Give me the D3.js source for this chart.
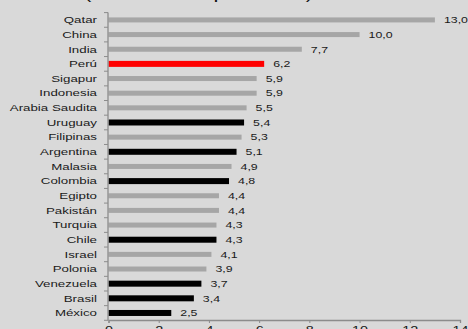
<!DOCTYPE html>
<html>
<head>
<meta charset="utf-8">
<script src="https://cdn.jsdelivr.net/npm/d3@7/dist/d3.min.js"></script>
<style>
  html, body { margin: 0; padding: 0; background: #d9d9d9; }
  svg { display: block; }
  text { font-family: "Liberation Sans", Arial, sans-serif; }
</style>
</head>
<body>
<svg id="chart" width="468" height="329"></svg>
<script>
// Average growth by country
const countries = ["Qatar", "China", "India", "Perú", "Sigapur", "Indonesia", "Arabia Saudita",
  "Uruguay", "Filipinas", "Argentina", "Malasia", "Colombia", "Egipto", "Pakistán",
  "Turquia", "Chile", "Israel", "Polonia", "Venezuela", "Brasil", "México"];
const growth = [13.0, 10.0, 7.7, 6.2, 5.9, 5.9, 5.5, 5.4, 5.3, 5.1, 4.9, 4.8, 4.4, 4.4,
  4.3, 4.3, 4.1, 3.9, 3.7, 3.4, 2.5];
// group: "peru" highlighted, "latam" other Latin American countries, "other" the rest
const group = ["other", "other", "other", "peru", "other", "other", "other",
  "latam", "other", "latam", "other", "latam", "other", "other",
  "other", "latam", "other", "other", "latam", "latam", "latam"];
const xTicks = [0, 2, 4, 6, 8, 10, 12, 14];
const title = "(Variación % promedio)";

const rows = countries.map((c, i) => ({ country: c, value: growth[i], group: group[i] }));

const svg = d3.select("#chart");
const margin = { left: 108.5, top: 12.6, bottom: 8.7 };
const H = 329;

const x = d3.scaleLinear().domain([0, 14]).range([margin.left, 460]);
const y = d3.scaleBand().domain(countries).range([margin.top, H - margin.bottom]);

const fill = { peru: "#ff0000", latam: "#000000", other: "#a6a6a6" };
const barH = { peru: 6, latam: 6, other: 5 };
const axisColor = "#8c8c8c";

// title, sitting mostly above the top edge
svg.append("text")
  .attr("x", 84).attr("y", -1.5)
  .attr("font-size", 17)
  .attr("fill", "#111")
  .attr("textLength", 229)
  .attr("lengthAdjust", "spacingAndGlyphs")
  .text(title);

// bars
svg.append("g").selectAll("rect")
  .data(rows).join("rect")
  .attr("x", x(0))
  .attr("y", d => y(d.country) + y.bandwidth() / 2 - barH[d.group] / 2)
  .attr("width", d => x(d.value) - x(0))
  .attr("height", d => barH[d.group])
  .attr("fill", d => fill[d.group]);

// category labels
svg.append("g").selectAll("text")
  .data(rows).join("text")
  .attr("transform", d => `translate(97,${y(d.country) + y.bandwidth() / 2 + 3.3}) scale(1.43,1)`)
  .attr("text-anchor", "end")
  .attr("font-size", 9.3)
  .attr("fill", "#1a1a1a")
  .text(d => d.country);

// value labels
const fmt = v => v.toFixed(1).replace(".", ",");
svg.append("g").selectAll("text")
  .data(rows).join("text")
  .attr("transform", d => `translate(${x(d.value) + 9},${y(d.country) + y.bandwidth() / 2 + 3.3}) scale(1.33,1)`)
  .attr("font-size", 9.3)
  .attr("fill", "#1a1a1a")
  .text(d => fmt(d.value));

// vertical category axis with ticks between rows
const yAxisG = svg.append("g");
yAxisG.append("line")
  .attr("x1", x(0) - 0.5).attr("x2", x(0) - 0.5)
  .attr("y1", y.range()[0]).attr("y2", y.range()[1])
  .attr("stroke", axisColor).attr("stroke-width", 1.3);
const bounds = countries.map(c => y(c)).concat([y.range()[1]]);
yAxisG.selectAll("line.tick")
  .data(bounds).join("line").attr("class", "tick")
  .attr("x1", x(0) - 4.5).attr("x2", x(0) - 0.5)
  .attr("y1", d => d).attr("y2", d => d)
  .attr("stroke", axisColor).attr("stroke-width", 1);

// horizontal value axis
const xAxis = d3.axisBottom(x).tickValues(xTicks).tickSize(3).tickPadding(3)
  .tickFormat(d3.format("d"));
const xg = svg.append("g")
  .attr("transform", `translate(0,${y.range()[1] - 0.3})`)
  .call(xAxis);
xg.select(".domain").attr("stroke", axisColor).attr("stroke-width", 1.3);
xg.selectAll(".tick line").attr("stroke", axisColor);
xg.selectAll(".tick text")
  .attr("font-size", 11)
  .attr("font-family", "Liberation Sans, Arial, sans-serif")
  .attr("fill", "#1a1a1a")
  .attr("textLength", d => String(d).length * 8)
  .attr("lengthAdjust", "spacingAndGlyphs");
</script>
</body>
</html>
